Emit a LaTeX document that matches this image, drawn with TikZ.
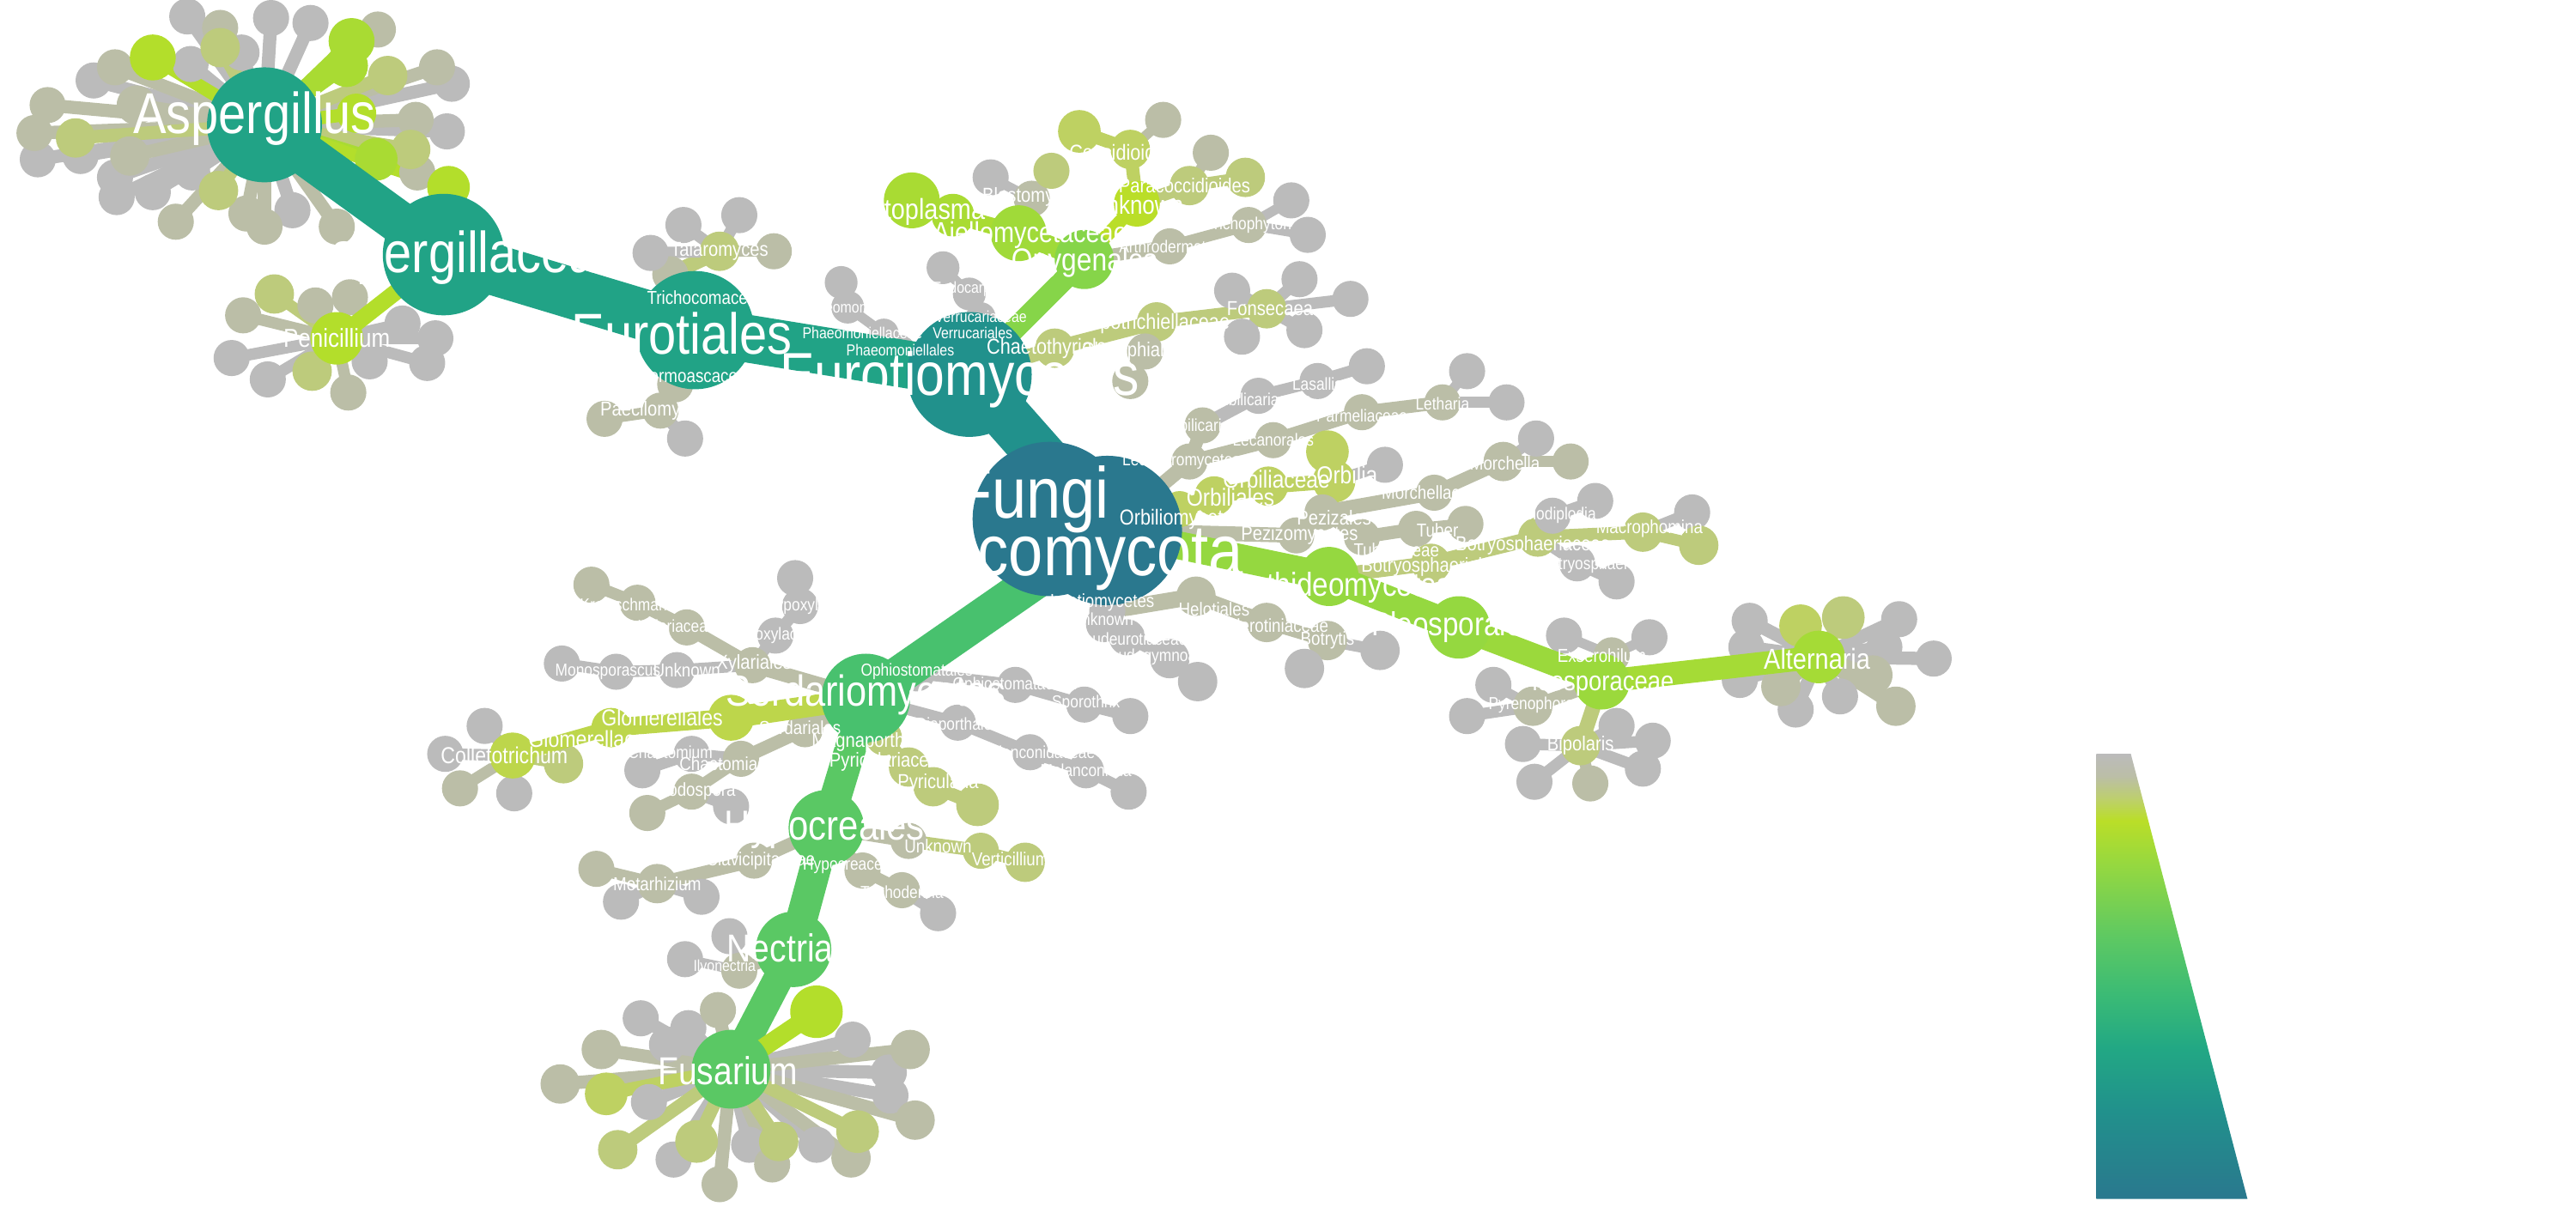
\documentclass[tikz,border=0pt]{standalone}
\usepackage{fontspec}
\setmainfont{Liberation Sans}[FakeStretch=0.86]
\definecolor{cgray}{HTML}{BBBBBB}
\definecolor{cgo}{HTML}{BBBEA7}
\definecolor{col}{HTML}{BDCB7C}
\definecolor{colg}{HTML}{BED162}
\definecolor{cyg}{HTML}{B3DE2B}
\definecolor{cyg2}{HTML}{A9DB33}
\definecolor{cglom}{HTML}{BDD64B}
\definecolor{vroot}{HTML}{2A788E}
\definecolor{veuro}{HTML}{21918C}
\definecolor{vasp}{HTML}{21A386}
\definecolor{vsord}{HTML}{48C16E}
\definecolor{vhyp}{HTML}{5AC864}
\definecolor{vdoth}{HTML}{95D840}
\definecolor{vpleo}{HTML}{9BD93C}
\definecolor{valt}{HTML}{A5DB36}
\definecolor{vony}{HTML}{86D549}
\definecolor{vajel}{HTML}{A0DA39}
\definecolor{vunk}{HTML}{BADE28}
\definecolor{lg3}{HTML}{22A884}
\definecolor{lg4}{HTML}{3BBB75}
\definecolor{lg5}{HTML}{5EC962}
\definecolor{lg6}{HTML}{BDCF6E}
\pgfdeclarelayer{le}\pgfdeclarelayer{ln}\pgfdeclarelayer{me}\pgfdeclarelayer{lab}
\pgfsetlayers{le,ln,me,main,lab}
\pgfdeclareverticalshading{legshade}{100bp}{color(0bp)=(vroot); color(25bp)=(vroot); color(35bp)=(veuro); color(42bp)=(lg3); color(48bp)=(lg4); color(54.5bp)=(lg5); color(62.5bp)=(vdoth); color(67.5bp)=(vunk); color(70bp)=(lg6); color(72.5bp)=(cgo); color(75bp)=(cgray); color(100bp)=(cgray)}
\tikzset{
  dot/.style 2 args={circle,fill=#1,draw=none,inner sep=0pt,outer sep=0pt,minimum size={(#2)*0.04cm}},
  lbl/.style={text=white,inner sep=0pt,outer sep=0pt}
}
\newcommand\majn[5]{\node[dot={#4}{#5}] (#1) at (#2,#3) {};}
\newcommand\leafn[5]{\begin{pgfonlayer}{ln}\node[dot={#4}{#5}] (#1) at (#2,#3) {};\end{pgfonlayer}}
\newcommand\medge[4]{\begin{pgfonlayer}{me}\draw[#3,line width={(#4)*0.02cm}] (#1.center) -- (#2.center);\end{pgfonlayer}}
\newcommand\ledge[4]{\begin{pgfonlayer}{le}\draw[#3,line width={(#4)*0.02cm}] (#1.center) -- (#2.center);\end{pgfonlayer}}
\newcommand\lf[7]{\leafn{#1}{#2}{#3}{#4}{#5}\ledge{#6}{#1}{#4}{#7}}
\newcommand\lab[5]{\begin{pgfonlayer}{lab}\node[lbl,font=\fontsize{#4}{#4}\selectfont] (#1) at (#2,#3) {#5};\end{pgfonlayer}}
\begin{document}
\begin{tikzpicture}[x=0.02cm,y=-0.02cm]
\useasboundingbox (0,0) rectangle (1568,749);
% ---------- major nodes ----------
\majn{peni}{205}{206}{cyg}{16}
\majn{histosp}{555}{122}{cyg2}{17}
\majn{histo}{580}{131}{cyg2}{13}
\majn{ajel}{620}{142}{vajel}{17}
\majn{ounk}{692}{124}{vunk}{14}
\majn{ony}{660}{158}{vony}{18}
\majn{colle}{312}{460}{cglom}{14}
\majn{glomfam}{372}{443}{cglom}{12}
\majn{glomales}{445}{437}{cglom}{14}
\majn{fusyg}{497}{616}{cyg}{16}
\majn{alt}{1107}{400}{valt}{16}
\majn{pleofam}{975}{415}{vpleo}{17}
\majn{pleoales}{888}{382}{vdoth}{19}
\majn{doth}{809}{351}{vdoth}{18}
\majn{fus}{445}{651}{vhyp}{24}
\majn{nect}{483}{578}{vhyp}{23}
\majn{hypo}{503}{504}{vhyp}{23}
\majn{sord}{527}{425}{vsord}{27}
\majn{asp}{161}{76}{vasp}{35}
\majn{aspfam}{270}{155}{vasp}{37}
\majn{eurotiales}{423}{201}{vasp}{36}
\majn{euro}{590}{228}{veuro}{38}
\majn{root1}{639}{316}{vroot}{47}
\majn{root2}{674}{323}{vroot}{45.5}
% ---------- major edges ----------
\medge{root2}{euro}{veuro}{30}
\medge{euro}{eurotiales}{vasp}{29}
\medge{eurotiales}{aspfam}{vasp}{31}
\medge{aspfam}{asp}{vasp}{26}
\medge{aspfam}{peni}{cyg}{10}
\medge{root2}{sord}{vsord}{23}
\medge{sord}{hypo}{vhyp}{19}
\medge{hypo}{nect}{vhyp}{19}
\medge{nect}{fus}{vhyp}{18}
\medge{fus}{fusyg}{cyg}{11}
\medge{root2}{doth}{vdoth}{17}
\medge{doth}{pleoales}{vdoth}{17}
\medge{pleoales}{pleofam}{vpleo}{15}
\medge{pleofam}{alt}{valt}{14}
\medge{euro}{ony}{vony}{13}
\medge{ony}{ajel}{vajel}{12}
\medge{ajel}{histo}{cyg2}{10}
\medge{histo}{histosp}{cyg2}{9}
\medge{ony}{ounk}{vunk}{8}
\medge{sord}{glomales}{cglom}{13}
\medge{glomales}{glomfam}{cglom}{11}
\medge{glomfam}{colle}{cglom}{9}
% ---------- Eurotiales ----------
\lf{trich}{408}{167}{cgo}{11}{eurotiales}{9}
\lf{talaro}{438}{153}{col}{12}{trich}{9}
\lf{talc1}{416}{137}{cgray}{11}{talaro}{7}
\lf{talc2}{450}{131}{cgray}{11}{talaro}{7}
\lf{talc4}{396}{154}{cgray}{11}{talaro}{7}
\lf{talc3}{471}{153}{cgo}{11}{talaro}{7}
\lf{thermo}{411}{234}{cgo}{11}{eurotiales}{9}
\lf{paeci}{402}{250}{cgo}{11}{thermo}{9}
\lf{paec1}{368}{255}{cgo}{11}{paeci}{7}
\lf{paec2}{417}{267}{cgray}{11}{paeci}{7}
% ---------- Eurotiomycetes small ----------
\lf{phaeord}{548}{213}{cgray}{9}{euro}{6}
\lf{phaefam}{538}{203}{cgray}{9}{phaeord}{6}
\lf{phaegen}{516}{187}{cgray}{10}{phaefam}{6}
\lf{phaesp}{512}{172}{cgray}{10}{phaegen}{6}
\lf{verrord}{576}{203}{cgray}{9}{euro}{6}
\lf{verrfam}{597}{193}{cgray}{9}{verrord}{6}
\lf{endo}{590}{179}{cgray}{10}{verrfam}{6}
\lf{endosp}{574}{163}{cgray}{10}{endo}{6}
\lf{chaeto}{642}{212}{col}{12}{euro}{9}
\lf{herpo}{704}{196}{col}{12}{chaeto}{9}
\lf{fonse}{771}{188}{col}{12}{herpo}{8}
\lf{fon1}{750}{177}{cgray}{11}{fonse}{7}
\lf{fon2}{791}{170}{cgray}{11}{fonse}{7}
\lf{fon3}{822}{182}{cgray}{11}{fonse}{7}
\lf{fon4}{794}{201}{cgray}{11}{fonse}{7}
\lf{fon5}{756}{205}{cgray}{11}{fonse}{7}
\lf{clado}{697}{214}{cgo}{11}{herpo}{7}
\lf{cladsp}{688}{232}{cgo}{11}{clado}{7}
% ---------- Onygenales ----------
\lf{blasto}{628}{121}{cgo}{11}{ajel}{7}
\lf{blas1}{603}{108}{cgray}{11}{blasto}{6}
\lf{blas2}{640}{104}{col}{11}{blasto}{6}
\lf{cocci}{688}{91}{colg}{12}{ounk}{8}
\lf{coc1}{657}{80}{colg}{13}{cocci}{8}
\lf{coc2}{708}{73}{cgo}{11}{cocci}{6}
\lf{para}{724}{113}{col}{12}{ounk}{8}
\lf{par1}{758}{108}{col}{12}{para}{7}
\lf{par2}{737}{93}{cgo}{11}{para}{6}
\lf{arthro}{712}{150}{cgo}{11}{ony}{8}
\lf{tricho}{760}{137}{cgo}{11}{arthro}{7}
\lf{tri1}{786}{122}{cgray}{11}{tricho}{6}
\lf{tri2}{796}{143}{cgray}{11}{tricho}{6}
% ---------- Lecanoromycetes ----------
\lf{lecmyc}{724}{281}{cgo}{11}{root2}{9}
\lf{umbord}{732}{259}{cgo}{11}{lecmyc}{8}
\lf{umbfam}{766}{241}{cgray}{11}{umbord}{8}
\lf{lasal}{802}{232}{cgray}{11}{umbfam}{7}
\lf{lasal1}{832}{223}{cgray}{11}{lasal}{7}
\lf{lecord}{775}{268}{cgo}{11}{lecmyc}{8}
\lf{parm}{829}{251}{cgo}{11}{lecord}{8}
\lf{leth}{878}{245}{cgo}{11}{parm}{8}
\lf{leth1}{893}{226}{cgray}{11}{leth}{6}
\lf{leth2}{917}{245}{cgray}{11}{leth}{7}
% ---------- Orbiliomycetes ----------
\lf{orbmyc}{718}{310}{colg}{11}{root2}{10}
\lf{orbord}{739}{302}{colg}{12}{orbmyc}{10}
\lf{orbfam}{772}{296}{colg}{12}{orbord}{10}
\lf{orbil}{812}{293}{colg}{13}{orbfam}{9}
\lf{orbil1}{808}{275}{colg}{13}{orbil}{8}
\lf{orbil2}{843}{283}{cgray}{11}{orbil}{7}
% ---------- Pezizomycetes ----------
\lf{pezmyc}{789}{326}{cgo}{11}{root2}{9}
\lf{pezord}{805}{312}{cgo}{11}{pezmyc}{9}
\lf{morfam}{873}{300}{cgo}{11}{pezord}{9}
\lf{morch}{915}{281}{cgo}{12}{morfam}{8}
\lf{mor1}{935}{267}{cgray}{11}{morch}{6}
\lf{mor2}{956}{281}{cgo}{11}{morch}{7}
\lf{tubfam}{829}{327}{cgo}{11}{pezord}{8}
\lf{tuber}{862}{322}{cgo}{11}{tubfam}{8}
\lf{tub1}{892}{319}{cgo}{11}{tuber}{7}
% ---------- Dothideomycetes ----------
\lf{botord}{871}{343}{col}{12}{doth}{9}
\lf{botfam}{936}{327}{col}{12}{botord}{9}
\lf{lasio}{945}{314}{cgray}{11}{botfam}{7}
\lf{lasio1}{971}{305}{cgray}{11}{lasio}{7}
\lf{macro}{1000}{324}{col}{12}{botfam}{8}
\lf{mac1}{1030}{312}{cgray}{11}{macro}{7}
\lf{mac2}{1034}{332}{col}{12}{macro}{7}
\lf{botry}{960}{343}{cgray}{11}{botfam}{7}
\lf{botry1}{984}{354}{cgray}{11}{botry}{7}
\lf{exse}{981}{399}{cgo}{11}{pleofam}{7}
\lf{exs1}{952}{387}{cgray}{11}{exse}{6}
\lf{exs2}{1004}{388}{cgray}{11}{exse}{6}
\lf{pyren}{933}{430}{cgo}{12}{pleofam}{8}
\lf{pyr1}{909}{417}{cgray}{11}{pyren}{6}
\lf{pyr2}{893}{436}{cgray}{11}{pyren}{7}
\lf{bipo}{962}{454}{col}{12}{pleofam}{9}
\lf{bip1}{927}{453}{cgray}{11}{bipo}{7}
\lf{bip2}{934}{476}{cgray}{11}{bipo}{7}
\lf{bip3}{968}{477}{cgo}{11}{bipo}{7}
\lf{bip4}{1000}{468}{cgray}{11}{bipo}{7}
\lf{bip5}{1006}{451}{cgray}{11}{bipo}{7}
\lf{bip6}{984}{442}{cgray}{11}{bipo}{7}
\foreach \nm/\x/\y/\c/\rr in {al1/1065/378/cgray/11, al2/1063/394/cgray/11, al3/1059/414/cgray/11, al5/1093/432/cgray/11, al6/1120/424/cgray/11, al9/1177/401/cgray/11, al10/1156/377/cgray/11, al11/1147/394/cgray/11, al4/1084/418/cgo/12, al7/1140/411/cgo/12, al8/1154/430/cgo/12, al12/1096/381/colg/13, al13/1122/376/col/13}
  {\lf{\nm}{\x}{\y}{\c}{\rr}{alt}{8}}
% ---------- Leotiomycetes ----------
\lf{leomyc}{674}{372}{cgray}{11}{root2}{9}
\lf{helo}{728}{363}{cgo}{12}{leomyc}{10}
\lf{scler}{771}{379}{cgo}{12}{helo}{9}
\lf{botrt}{808}{390}{cgo}{12}{scler}{8}
\lf{botrt1}{840}{396}{cgray}{12}{botrt}{7}
\lf{botrt2}{794}{407}{cgray}{12}{botrt}{7}
\lf{leounk}{672}{380}{cgray}{11}{leomyc}{7}
\lf{pseud}{686}{388}{cgray}{11}{leounk}{7}
\lf{pseudg}{712}{401}{cgray}{12}{pseud}{7}
\lf{pseudg1}{729}{415}{cgray}{12}{pseudg}{7}
% ---------- Sordariomycetes ----------
\lf{xylord}{458}{405}{cgo}{11}{sord}{9}
\lf{xylfam}{418}{382}{cgo}{11}{xylord}{8}
\lf{kretz}{388}{367}{cgo}{11}{xylfam}{8}
\lf{kretz1}{360}{356}{cgo}{11}{kretz}{7}
\lf{hypfam}{472}{387}{cgray}{11}{xylord}{7}
\lf{hypox}{487}{369}{cgray}{11}{hypfam}{7}
\lf{hypox1}{484}{352}{cgray}{11}{hypox}{7}
\lf{xunk}{412}{408}{cgray}{11}{xylord}{7}
\lf{monos}{375}{409}{cgray}{11}{xunk}{7}
\lf{monos1}{342}{404}{cgray}{11}{monos}{7}
\lf{sordales}{490}{444}{cgo}{11}{sord}{8}
\lf{chaetf}{451}{462}{cgo}{11}{sordales}{8}
\lf{chaetm}{421}{459}{cgray}{11}{chaetf}{7}
\lf{chaetm1}{391}{469}{cgray}{11}{chaetm}{7}
\lf{podo}{421}{482}{cgo}{11}{chaetf}{7}
\lf{podo1}{394}{495}{cgo}{11}{podo}{7}
\lf{podo2}{445}{491}{cgray}{11}{podo}{7}
\lf{magord}{538}{449}{col}{11}{sord}{8}
\lf{pyrfam}{553}{467}{col}{12}{magord}{8}
\lf{pyric}{568}{479}{col}{12}{pyrfam}{8}
\lf{pyric1}{595}{490}{col}{13}{pyric}{8}
\lf{ophord}{558}{410}{cgray}{11}{sord}{7}
\lf{ophfam}{618}{417}{cgray}{11}{ophord}{7}
\lf{sporo}{660}{429}{cgray}{11}{ophfam}{7}
\lf{sporo1}{688}{436}{cgray}{11}{sporo}{7}
\lf{diaord}{583}{440}{cgray}{11}{sord}{7}
\lf{melfam}{627}{458}{cgray}{11}{diaord}{7}
\lf{melan}{661}{469}{cgray}{11}{melfam}{7}
\lf{melan1}{687}{482}{cgray}{11}{melan}{7}
\foreach \nm/\x/\y/\c/\rr in {c1/295/442/cgray/11, c2/271/459/cgray/11, c3/280/480/cgo/11, c4/313/483/cgray/11, c5/343/465/col/12}
  {\lf{\nm}{\x}{\y}{\c}{\rr}{colle}{7}}
% ---------- Hypocreales ----------
\lf{clav}{459}{524}{cgo}{11}{hypo}{8}
\lf{metar}{400}{538}{cgo}{12}{clav}{8}
\lf{met1}{363}{529}{cgo}{11}{metar}{7}
\lf{met2}{378}{549}{cgray}{11}{metar}{7}
\lf{met3}{427}{546}{cgray}{11}{metar}{7}
\lf{hypcf}{525}{530}{cgo}{11}{hypo}{7}
\lf{trichd}{549}{542}{cgo}{11}{hypcf}{7}
\lf{trichd1}{571}{556}{cgray}{11}{trichd}{7}
\lf{hunk}{553}{512}{cgo}{11}{hypo}{8}
\lf{verti}{597}{518}{col}{11}{hunk}{8}
\lf{verti1}{624}{525}{col}{12}{verti}{7}
\lf{ilyo}{450}{591}{cgo}{11}{nect}{7}
\lf{ilyo1}{417}{584}{cgray}{11}{ilyo}{6}
\lf{ilyo2}{444}{570}{cgray}{11}{ilyo}{6}
\foreach \nm/\x/\y/\c/\rr in {f3/390/620/cgray/11, f4/419/626/cgray/11, f6/406/636/cgray/11, f10/410/706/cgray/11, f13/497/697/cgray/11, f17/542/667/cgray/11, f18/541/653/cgray/11, f20/519/633/cgray/11, f21/456/697/cgray/11, f22/395/671/cgray/11, f1/341/660/cgo/12, f2/366/639/cgo/12, f5/437/615/cgo/11, f9/438/721/cgo/11, f11/470/709/cgo/11, f14/518/705/cgo/12, f16/557/682/cgo/12, f19/554/639/cgo/12, f7/376/700/col/12, f8/424/695/col/13, f12/474/695/col/12, f15/522/689/col/13, f23/369/666/colg/13}
  {\lf{\nm}{\x}{\y}{\c}{\rr}{fus}{8}}
% ---------- Aspergillus / Penicillium clusters ----------
\foreach \nm/\x/\y/\c/\rr in {a2/114/10/cgray/11, a5/147/32/cgray/11, a6/165/11/cgray/11, a7/189/14/cgray/11, a13/275/51/cgray/11, a16/272/80/cgray/11, a21/178/128/cgray/11, a27/93/117/cgray/11, a28/71/120/cgray/11, a29/70/108/cgray/11, a32/49/95/cgray/11, a34/23/97/cgray/11, a37/57/49/cgray/11, a39/116/39/cgray/11, a40/117/105/cgray/11, a3/134/17/cgo/11, a8/230/18/cgo/11, a12/266/41/cgo/11, a15/253/73/cgo/11, a19/254/105/cgo/11, a22/161/138/cgo/11, a23/205/138/cgo/11, a24/150/130/cgo/11, a26/107/135/cgo/11, a30/79/95/cgo/12, a33/21/81/cgo/11, a35/29/64/cgo/11, a36/83/64/cgo/12, a38/70/41/cgo/11, a4/134/29/col/12, a11/236/46/col/12, a17/250/91/col/12, a25/133/116/col/12, a31/46/84/col/12, a1/93/35/cyg/14, a9/214/25/cyg2/14, a10/211/40/cyg2/13, a14/217/69/cyg/12, a18/229/97/cyg2/13, a20/273/114/cyg/13}
  {\lf{\nm}{\x}{\y}{\c}{\rr}{asp}{8}}
\foreach \nm/\x/\y/\c/\rr in {p3/141/218/cgray/11, p4/163/231/cgray/11, p7/225/220/cgray/11, p8/260/221/cgray/11, p9/265/206/cgray/11, p10/245/197/cgray/11, p2/148/192/cgo/11, p6/212/239/cgo/11, p11/213/181/cgo/11, p12/192/186/cgo/11, p1/167/179/col/12, p5/190/226/col/12}
  {\lf{\nm}{\x}{\y}{\c}{\rr}{peni}{7}}
% ---------- labels ----------
\lab{lFungi}{628}{304}{25}{Fungi}
\lab{lAsco}{654}{340}{25}{Ascomycota}
\lab{lEuro}{584}{231}{21}{Eurotiomycetes}
\lab{lEurot}{415}{203}{20}{Eurotiales}
\lab{lAspf}{281}{157}{20}{Aspergillaceae}
\lab{lAsp}{155}{72}{20}{Aspergillus}
\lab{lPeni}{205}{206}{9}{Penicillium}
\lab{lSord}{527}{423}{15}{Sordariomycetes}
\lab{lHypo}{502}{505}{14.5}{Hypocreales}
\lab{lNect}{497}{577}{13.5}{Nectriaceae}
\lab{lFus}{443}{652}{13.5}{Fusarium}
\lab{lDoth}{816}{358}{11.5}{Dothideomycetes}
\lab{lPleoo}{885}{382}{11.5}{Pleosporales}
\lab{lPleof}{971}{416}{9.5}{Pleosporaceae}
\lab{lAlt}{1106}{401}{10}{Alternaria}
\lab{lOny}{660}{160}{11}{Onygenales}
\lab{lAjel}{627}{143}{10}{Ajellomycetaceae}
\lab{lHisto}{558}{129}{10}{Histoplasma}
\lab{lOunk}{692}{125}{9}{Unknown}
\lab{lCocci}{683}{93}{7.5}{Coccidioides}
\lab{lPara}{721}{113}{7}{Paracoccidioides}
\lab{lBlas}{628}{120}{7}{Blastomyces}
\lab{lArth}{720}{150}{6}{Arthrodermataceae}
\lab{lTrich}{760}{137}{6}{Trichophyton}
\lab{lChaeto}{640}{212}{7.5}{Chaetothyriales}
\lab{lHerpo}{700}{197}{7.5}{Herpotrichiellaceae}
\lab{lFonse}{773}{188}{7}{Fonsecaea}
\lab{lClado}{700}{214}{7}{Cladophialophora}
\lab{lTrichoc}{430}{181}{6.5}{Trichocomaceae}
\lab{lTalaro}{438}{153}{7}{Talaromyces}
\lab{lThermo}{422}{229}{6.5}{Thermoascaceae}
\lab{lPaeci}{398}{250}{7}{Paecilomyces}
\lab{lPhaef}{525}{203}{5.5}{Phaeomoniellaceae}
\lab{lVerro}{592}{203}{5.5}{Verrucariales}
\lab{lPhaeo}{548}{213}{5.5}{Phaeomoniellales}
\lab{lVerrf}{597}{193}{5.5}{Verrucariaceae}
\lab{lPhaeg}{515}{187}{5.5}{Phaeomoniella}
\lab{lEndo}{590}{176}{5.5}{Endocarpon}
\lab{lLecm}{719}{281}{6}{Lecanoromycetes}
\lab{lUmbo}{732}{259}{6}{Umbilicariales}
\lab{lUmbf}{766}{243}{6}{Umbilicariaceae}
\lab{lLasal}{802}{234}{6}{Lasallia}
\lab{lLeco}{775}{268}{6}{Lecanorales}
\lab{lParm}{829}{253}{6}{Parmeliaceae}
\lab{lLeth}{878}{246}{6}{Letharia}
\lab{lOrbm}{719}{316}{7.5}{Orbiliomycetes}
\lab{lOrbo}{749}{303}{8.5}{Orbiliales}
\lab{lOrbf}{777}{292}{8.5}{Orbiliaceae}
\lab{lOrbil}{820}{289}{8.5}{Orbilia}
\lab{lPezm}{791}{326}{7}{Pezizomycetes}
\lab{lPezo}{812}{315}{7}{Pezizales}
\lab{lMorf}{873}{300}{6.5}{Morchellaceae}
\lab{lMorch}{916}{282}{6.5}{Morchella}
\lab{lTubf}{850}{335}{6.5}{Tuberaceae}
\lab{lTuber}{875}{323}{6.5}{Tuber}
\lab{lBoto}{871}{345}{7}{Botryosphaeriales}
\lab{lBotf}{933}{332}{7}{Botryosphaeriaceae}
\lab{lLasio}{945}{314}{6}{Lasiodiplodia}
\lab{lMacro}{1004}{322}{6.5}{Macrophomina}
\lab{lBotry}{968}{344}{6}{Botryosphaeria}
\lab{lExse}{975}{399}{6.5}{Exserohilum}
\lab{lPyren}{932}{429}{6}{Pyrenophora}
\lab{lBipo}{962}{454}{7}{Bipolaris}
\lab{lLeom}{671}{367}{6.5}{Leotiomycetes}
\lab{lLeounk}{671}{377}{6}{Unknown}
\lab{lPseud}{686}{389}{6}{Pseudeurotiaceae}
\lab{lPseudg}{706}{400}{6}{Pseudogymnoascus}
\lab{lHelo}{739}{371}{6.5}{Helotiales}
\lab{lScler}{775}{381}{6.5}{Sclerotiniaceae}
\lab{lBotrt}{808}{390}{6.5}{Botrytis}
\lab{lXylo}{459}{404}{7}{Xylariales}
\lab{lXylf}{412}{382}{6}{Xylariaceae}
\lab{lKretz}{382}{368}{6}{Kretzschmaria}
\lab{lHypf}{472}{387}{6}{Hypoxylaceae}
\lab{lHypox}{487}{369}{6}{Hypoxylon}
\lab{lXunk}{418}{408}{6.5}{Unknown}
\lab{lMonos}{370}{409}{6}{Monosporascus}
\lab{lGlomo}{403}{437}{8}{Glomerellales}
\lab{lGlomf}{364}{450}{8}{Glomerellaceae}
\lab{lColle}{307}{460}{8}{Colletotrichum}
\lab{lSordo}{487}{443}{6.5}{Sordariales}
\lab{lChaetf}{448}{465}{6.5}{Chaetomiaceae}
\lab{lChaetm}{408}{458}{6}{Chaetomium}
\lab{lPodo}{424}{482}{6.5}{Podospora}
\lab{lMago}{532}{452}{7}{Magnaporthales}
\lab{lPyrf}{541}{464}{7}{Pyriculariaceae}
\lab{lPyric}{571}{477}{7}{Pyricularia}
\lab{lOpho}{558}{409}{6}{Ophiostomatales}
\lab{lOphf}{618}{417}{6}{Ophiostomataceae}
\lab{lSporo}{661}{428}{6}{Sporothrix}
\lab{lDiao}{583}{442}{6}{Diaporthales}
\lab{lMelf}{631}{458}{6}{Melanconidaceae}
\lab{lMelan}{661}{469}{6}{Melanconiella}
\lab{lClav}{463}{524}{6.5}{Clavicipitaceae}
\lab{lMetar}{400}{538}{6.5}{Metarhizium}
\lab{lHypcf}{518}{527}{6}{Hypocreaceae}
\lab{lTrichd}{549}{543}{6}{Trichoderma}
\lab{lHunk}{571}{515}{6.5}{Unknown}
\lab{lVerti}{615}{523}{6.5}{Verticillium}
\lab{lIlyo}{441}{589}{5.5}{Ilyonectria}
% ---------- legend ----------
\shade[shading=legshade] (1276,459) -- (1297,459) -- (1368,730) -- (1276,730) -- cycle;
\end{tikzpicture}
\end{document}
